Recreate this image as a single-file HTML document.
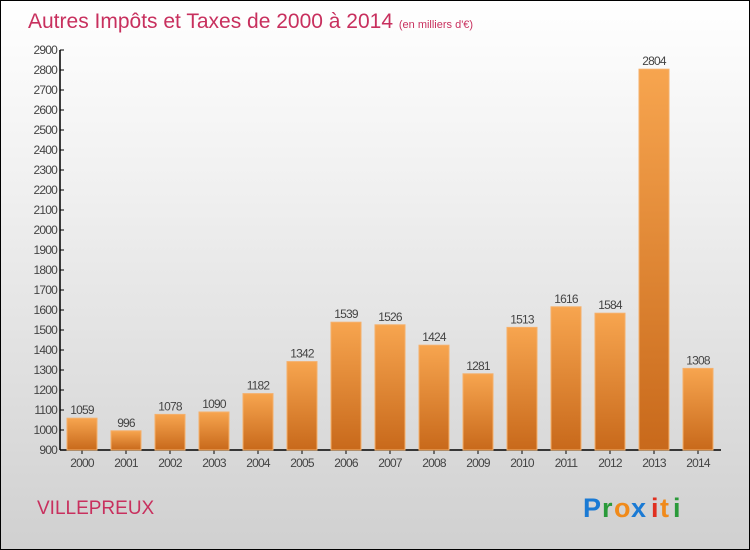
<!DOCTYPE html>
<html><head><meta charset="utf-8"><style>
body{margin:0;}
#c{position:relative;width:748px;height:548px;border:1px solid #000;background:linear-gradient(#ffffff,#f2f2f2 30%,#d0d0d0);overflow:hidden;font-family:"Liberation Sans",sans-serif;}
</style></head><body>
<div id="c">
<svg width="748" height="548">
<defs><linearGradient id="g" x1="0" y1="0" x2="0" y2="1"><stop offset="0" stop-color="#f7a54f"/><stop offset="1" stop-color="#c8691b"/></linearGradient></defs>
<text x="27" y="27" font-size="21" fill="#c8305e">Autres Impôts et Taxes de 2000 à 2014 <tspan font-size="11">(en milliers d'€)</tspan></text>
<text x="36" y="513" font-size="19" fill="#c8305e">VILLEPREUX</text>
<g font-size="27" font-weight="bold">
<text x="582" y="516" fill="#1a7ad4">P</text><text x="601" y="516" fill="#2a9a3a">r</text><text x="613" y="516" fill="#f08a1a">o</text><text x="630" y="516" fill="#1a7ad4">x</text><text x="650" y="516" fill="#e03020">i</text><text x="659" y="516" fill="#f08a1a">t</text><text x="672" y="516" fill="#2a9a3a">i</text>
</g>
<g id="plot"></g>
</svg>
</div>
<script>
const years=["2000","2001","2002","2003","2004","2005","2006","2007","2008","2009","2010","2011","2012","2013","2014"];
const values=[1059,996,1078,1090,1182,1342,1539,1526,1424,1281,1513,1616,1584,2804,1308];
const yTicks=[900,1000,1100,1200,1300,1400,1500,1600,1700,1800,1900,2000,2100,2200,2300,2400,2500,2600,2700,2800,2900];
const NS="http://www.w3.org/2000/svg";
const g=document.getElementById('plot');
const y=v=>449-(v-900)*0.2;
const x=i=>81+i*44;
function mk(t,a,p){const e=document.createElementNS(NS,t);for(const k in a)e.setAttribute(k,a[k]);(p||g).appendChild(e);return e;}
const ax=mk('line',{x1:59,y1:49,x2:59,y2:449,stroke:'#000','stroke-width':1.5});


const bx=mk('line',{x1:59,y1:449,x2:720,y2:449,stroke:'#000','stroke-width':1.5});


yTicks.forEach(v=>{
 mk('line',{x1:59,y1:y(v),x2:63,y2:y(v),stroke:'#000'});
 const t=mk('text',{x:56,y:y(v)+4,'font-size':12,'text-anchor':'end',fill:'#444','letter-spacing':'-0.8'});
 t.textContent=v;
 
 
});
years.forEach((yr,i)=>{
 const cx=x(i);
 mk('line',{x1:cx,y1:449,x2:cx,y2:453,stroke:'#000'});
 const r=mk('rect',{x:cx-15,y:y(values[i]),width:30,height:449-y(values[i]),fill:'url(#g)',stroke:'#f5b06a','stroke-width':1});
 
 
 const l=mk('text',{x:cx,y:y(values[i])-4,'font-size':12,'text-anchor':'middle',fill:'#444','letter-spacing':'-0.8'});
 l.textContent=values[i];
 
 
 const xt=mk('text',{x:cx,y:466,'font-size':12,'text-anchor':'middle',fill:'#444','letter-spacing':'-0.8'});
 xt.textContent=yr;
 
 
});
</script>
</body></html>
